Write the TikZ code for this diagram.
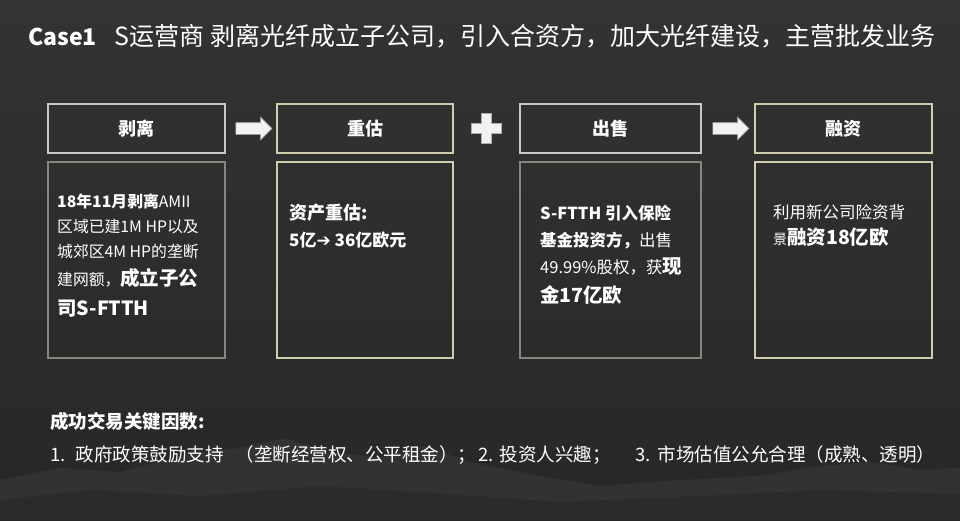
\documentclass[tikz,border=0pt]{standalone}
\usepackage{fontspec}
\setmainfont{Noto Sans CJK SC}
\newfontfamily\arrowfont{DejaVu Sans}
\usetikzlibrary{shapes.arrows,calc}

\definecolor{bgtop}{HTML}{333333}
\definecolor{bgbot}{HTML}{272727}
\definecolor{greyline}{HTML}{C8C8C8}
\definecolor{khakiline}{HTML}{CFCDAA}
\definecolor{dimline}{HTML}{86867D}
\definecolor{arrowfill}{HTML}{F2F2F2}

\newcommand{\hlbold}[1]{{\bfseries\fontsize{19.5}{25}\selectfont #1}}

\begin{document}
\begin{tikzpicture}[
    x=1pt, y=-1pt,
    every node/.style={text=white, inner sep=0pt},
    hdrbox/.style={
        draw,
        line width=1.6pt,
        minimum height=49pt,
        font=\bfseries\fontsize{18}{20}\selectfont
    },
    bodybox/.style={
        draw,
        line width=1.6pt,
        minimum height=196pt
    },
    bodytext/.style={anchor=north west, align=left, font=\fontsize{15.8}{25}\selectfont},
    blockarr/.style={
        single arrow,
        draw=gray!65,
        fill=arrowfill,
        line width=0.6pt,
        minimum height=36pt,
        single arrow head extend=5.5pt,
        inner sep=5.5pt
    }
]
    % Background and mountains
    \useasboundingbox (0,0) rectangle (960,520);
    \fill[top color=bgtop, bottom color=bgbot] (0,0) rectangle (960,520);
    \fill[white, opacity=0.05] (0,520) -- (0,480) -- (60,468) -- (120,472) -- (180,456)
        -- (240,448) -- (285,438) -- (330,452) -- (380,458) -- (425,446) -- (470,462)
        -- (530,474) -- (600,486) -- (680,480) -- (760,476) -- (820,466) -- (870,462)
        -- (920,470) -- (960,468) -- (960,520) -- cycle;
    \fill[black, opacity=0.12] (0,520) -- (0,500) -- (90,490) -- (200,496) -- (320,486)
        -- (450,494) -- (560,502) -- (700,496) -- (820,490) -- (960,494) -- (960,520) -- cycle;

    % Title
    \node[anchor=west, font=\fontsize{25}{30}\selectfont] (title) at (28,36)
        {{\bfseries\fontsize{23}{28}\selectfont Case1}\hspace{18pt}S运营商 剥离光纤成立子公司，引入合资方，加大光纤建设，主营批发业务};

    % Header boxes
    \node[hdrbox, draw=greyline, minimum width=177pt] (sep) at (136.5,128.5) {剥离};
    \node[hdrbox, draw=khakiline, minimum width=176pt] (reval) at (365,128.5) {重估};
    \node[hdrbox, draw=greyline, minimum width=181pt] (sale) at (610.5,128.5) {出售};
    \node[hdrbox, draw=khakiline, minimum width=177pt] (fin) at (843.5,128.5) {融资};

    % Body boxes
    \node[bodybox, draw=dimline, minimum width=177pt] (sepbody) at (136.5,260) {};
    \node[bodybox, draw=khakiline, minimum width=176pt] (revalbody) at (365,260) {};
    \node[bodybox, draw=dimline, minimum width=181pt] (salebody) at (610.5,260) {};
    \node[bodybox, draw=khakiline, minimum width=177pt] (finbody) at (843.5,260) {};

    % Arrows and plus between headers
    \node[blockarr] (arrA) at ($(sep.east)!0.5!(reval.west)$) {};
    \node[blockarr] (arrB) at ($(sale.east)!0.5!(fin.west)$) {};
    \coordinate (plus) at ($(reval.east)!0.5!(sale.west)$);
    \draw[draw=gray!65, fill=arrowfill, line width=0.6pt] (plus) ++(-5,-15) -- ++(10,0)
        -- ++(0,10) -- ++(10,0) -- ++(0,10) -- ++(-10,0) -- ++(0,10) -- ++(-10,0)
        -- ++(0,-10) -- ++(-10,0) -- ++(0,-10) -- ++(10,0) -- cycle;

    % Body texts
    \node[bodytext] (septext) at (57,194)
        {\textbf{18年11月剥离}AMII\\区域已建1M HP以及\\城郊区4M HP的垄断\\[3pt]建网额，\hlbold{成立子公}\\[5pt]\hlbold{司S-FTTH}};
    \node[bodytext, font=\bfseries\fontsize{17}{27}\selectfont] (revaltext) at (289,204)
        {{\fontsize{18}{27}\selectfont 资产重估:}\\5亿{\arrowfont ➔} 36亿欧元};
    \node[bodytext, font=\fontsize{16.5}{27}\selectfont] (saletext) at (540,205)
        {\textbf{S-FTTH 引入保险}\\\textbf{基金投资方，}出售\\49.99\%股权，获\hlbold{现}\\[2pt]\hlbold{金17亿欧}};
    \node[bodytext, font=\fontsize{16.5}{26}\selectfont] (fintext) at (773,204)
        {利用新公司险资背\\{\fontsize{14}{26}\selectfont 景}\hlbold{融资18亿欧}};

    % Key factors
    \node[anchor=west, font=\bfseries\fontsize{18.5}{22}\selectfont] (keyhead) at (50,421)
        {成功交易关键因数:};
    \node[anchor=west, font=\fontsize{18.5}{22}\selectfont] (keylist) at (50,455)
        {1.\hspace{10pt}政府政策鼓励支持\hspace{12pt}（垄断经营权、公平租金）；\hspace{2pt}2.\hspace{6pt}投资人兴趣；\hspace{25pt}3.\hspace{7pt}市场估值公允合理（成熟、透明）};
\end{tikzpicture}
\end{document}
